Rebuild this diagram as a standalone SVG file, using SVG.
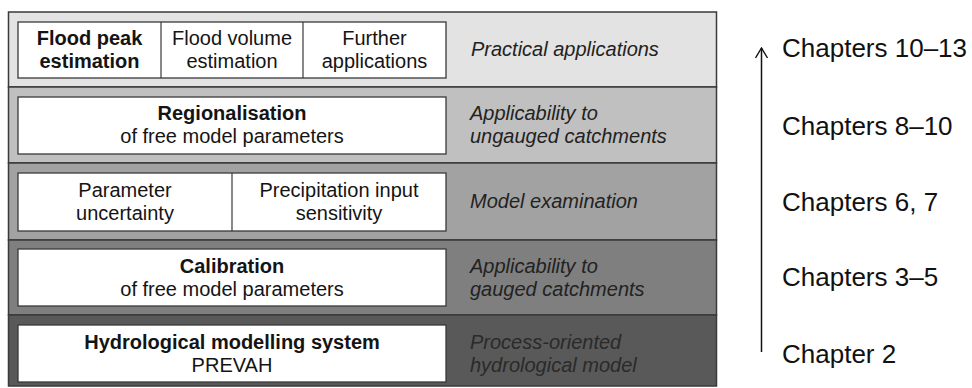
<svg xmlns="http://www.w3.org/2000/svg" width="972" height="388" viewBox="0 0 972 388">
<defs>
<style>
.band{stroke:#3a3a3a;stroke-width:1.5}
.box{fill:#fff;stroke:#3a3a3a;stroke-width:1.3}
.div{stroke:#3a3a3a;stroke-width:1.2}
text{font-family:"Liberation Sans",Arial,sans-serif;fill:#141414}
.t{font-size:20px;text-anchor:middle}
.b{font-weight:bold}
.i{font-size:20px;font-style:italic;fill:#222}
.ch{font-size:26px;fill:#111}
</style>
<marker id="ah" viewBox="0 0 12 14" refX="11" refY="7" markerWidth="12" markerHeight="14" markerUnits="userSpaceOnUse" orient="auto">
<path d="M1,1 L11,7 L1,13" fill="none" stroke="#111" stroke-width="1.4"/>
</marker>
</defs>
<rect width="972" height="388" fill="#fff"/>

<g id="band-applications">
<rect class="band" x="8.5" y="12" width="708" height="75" fill="#e3e3e3"/>
<rect class="box" x="18" y="22" width="428" height="56"/>
<line class="div" x1="161" y1="22" x2="161" y2="78"/>
<line class="div" x1="303" y1="22" x2="303" y2="78"/>
<text class="t b" x="89.5" y="45">Flood peak</text>
<text class="t b" x="89.5" y="68">estimation</text>
<text class="t" x="232" y="45">Flood volume</text>
<text class="t" x="232" y="68">estimation</text>
<text class="t" x="374.5" y="45">Further</text>
<text class="t" x="374.5" y="68">applications</text>
<text class="i" x="471" y="56">Practical applications</text>
</g>

<g id="band-regionalisation">
<rect class="band" x="8.5" y="87" width="708" height="76" fill="#c0c0c0"/>
<rect class="box" x="18" y="97" width="428" height="57"/>
<text class="t b" x="232" y="120">Regionalisation</text>
<text class="t" x="232" y="143">of free model parameters</text>
<text class="i" x="470" y="120">Applicability to</text>
<text class="i" x="470" y="143">ungauged catchments</text>
</g>

<g id="band-examination">
<rect class="band" x="8.5" y="163" width="708" height="77" fill="#a2a2a2"/>
<rect class="box" x="18" y="173" width="428" height="58"/>
<line class="div" x1="232" y1="173" x2="232" y2="231"/>
<text class="t" x="125" y="197">Parameter</text>
<text class="t" x="125" y="220">uncertainty</text>
<text class="t" x="339" y="197">Precipitation input</text>
<text class="t" x="339" y="220">sensitivity</text>
<text class="i" x="470" y="208">Model examination</text>
</g>

<g id="band-calibration">
<rect class="band" x="8.5" y="240" width="708" height="75" fill="#7f7f7f"/>
<rect class="box" x="18" y="249" width="428" height="57"/>
<text class="t b" x="232" y="273">Calibration</text>
<text class="t" x="232" y="296">of free model parameters</text>
<text class="i" x="470" y="273">Applicability to</text>
<text class="i" x="470" y="296">gauged catchments</text>
</g>

<g id="band-model">
<rect class="band" x="8.5" y="315" width="708" height="71" fill="#595959"/>
<rect class="box" x="18" y="325" width="428" height="57"/>
<text class="t b" x="232" y="349">Hydrological modelling system</text>
<text class="t" x="232" y="372">PREVAH</text>
<text class="i" x="470" y="349" style="fill:#2a2a2a">Process-oriented</text>
<text class="i" x="470" y="372" style="fill:#2a2a2a">hydrological model</text>
</g>

<g id="connectors">
<line x1="761.5" y1="352" x2="761.5" y2="48" stroke="#111" stroke-width="1.5" marker-end="url(#ah)"/>
</g>

<g id="chapters">
<text class="ch" x="782" y="57">Chapters 10–13</text>
<text class="ch" x="782" y="135">Chapters 8–10</text>
<text class="ch" x="782" y="211">Chapters 6, 7</text>
<text class="ch" x="782" y="286">Chapters 3–5</text>
<text class="ch" x="782" y="363">Chapter 2</text>
</g>
</svg>
